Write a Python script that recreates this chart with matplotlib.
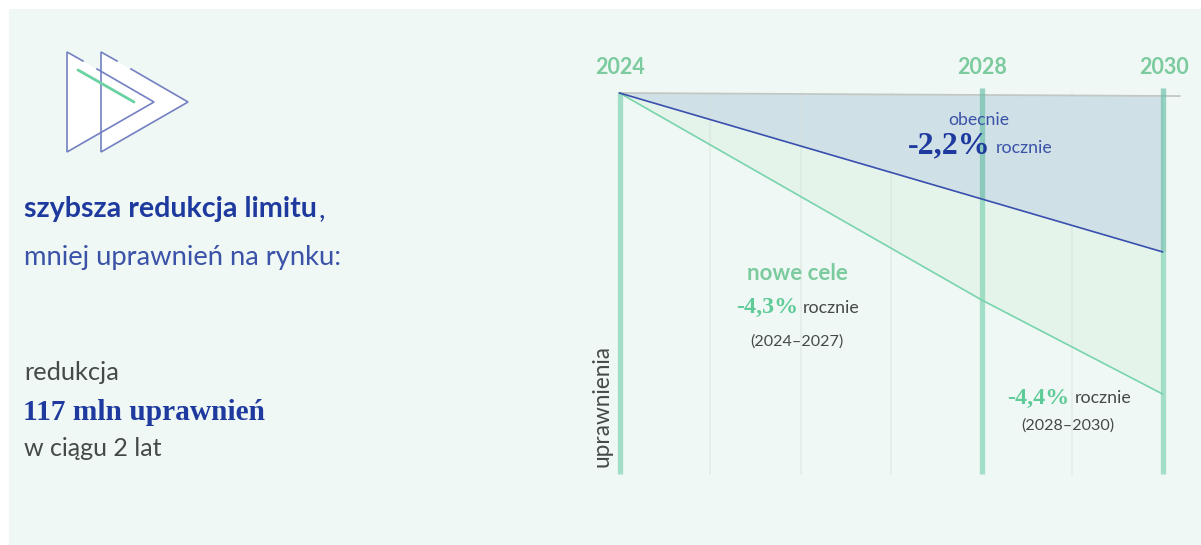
import matplotlib
matplotlib.use("Agg")
from matplotlib import pyplot as plt
from matplotlib.patches import Polygon, Rectangle

W, H = 1201, 545

years = [2024, 2028, 2030]
grid_years = [2025, 2026, 2027, 2029]
year_labels = ["2024", "2028", "2030"]
baseline = [100, 99.5, 99.3]
current_path = [100, 72.2, 58.3]
new_path = [100, 45.7, 21.0]

NAVY = "#1f3a9e"
NAVY_LIGHT = "#3a52a8"
GREEN = "#7ccb9f"
GREEN_STRONG = "#5fcb98"
DARK = "#444a48"
BG = "#eff8f4"
SANS = "Lato"
SERIF = "Liberation Serif"

fig = plt.figure(figsize=(W / 100, H / 100), dpi=100, facecolor="white")

# page layer in pixel coords, for panel, icon and all the text
page = fig.add_axes([0, 0, 1, 1], zorder=0)
page.set_xlim(0, W)
page.set_ylim(H, 0)
page.axis("off")
page.add_patch(Rectangle((9, 9), W - 9, H - 9, facecolor=BG, edgecolor="none"))

# icon
tri_color = "#7380c2"
for dx in [34, 0]:
    page.add_patch(Polygon([(67 + dx, 52), (154 + dx, 102), (67 + dx, 152)], closed=True,
                           facecolor="white", edgecolor="none"))
    page.plot([83 + dx, 67 + dx, 67 + dx, 154 + dx, 97 + dx],
              [61, 52, 152, 102, 69], color=tri_color, lw=1.2, solid_joinstyle="miter")
page.plot([78, 134], [70, 102], color="#6ad2a2", lw=2.0, solid_capstyle="round")

# chart layer, 2024 to 2030 runs from px 619.5 to 1162.5, 100 to 0 from px 93 to 474
x_per_px = 543 / 6
y_per_px = 381 / 100
ax = fig.add_axes([0, 0, 1, 1], zorder=1)
ax.patch.set_alpha(0)
ax.axis("off")
ax.set_xlim(2024 - 619.5 / x_per_px, 2024 + (W - 619.5) / x_per_px)
ax.set_ylim(100 - (H - 93) / y_per_px, 100 + 93 / y_per_px)

ax.fill_between(years, new_path, current_path, color="#e4f4ea", lw=0, zorder=1)
ax.fill_between(years, current_path, baseline, color="#cfe1e6", lw=0, zorder=1)

for y in grid_years:
    ax.plot([y, y], [0, 100], color="#d5dcd9", alpha=0.45, lw=1.1, zorder=2)
ax.plot([2024, 2030.19], [baseline[0], 99.2], color="#c2c8c4", lw=1.3, zorder=2)

for y in years:
    top = 100 if y == 2024 else 101.3
    ax.plot([y, y], [0, top], color="#74cfae", alpha=0.62, lw=3.8,
            solid_capstyle="butt", zorder=3)

# year lines read darker where they cross the navy area
for y, low in zip(years[1:], current_path[1:]):
    ax.plot([y, y], [low, 101.3], color="#1f5a7e", alpha=0.09, lw=3.8,
            solid_capstyle="butt", zorder=3)

ax.plot(years, new_path, color="#78d4ac", lw=1.2, zorder=4)
ax.plot(years, current_path, color="#3a4fae", lw=1.2, zorder=4)


def label(x, y, s, size, color, weight="normal", family=SANS, ha="left", **kw):
    ax.text(x, y, s, transform=page.transData, fontsize=size, color=color, fontweight=weight,
            family=family, ha=ha, va="center", zorder=5, **kw)


for s, x in zip(year_labels, [620, 982, 1164]):
    label(x, 68, s, 15.5, GREEN, weight="bold", ha="center")

label(979, 120, "obecnie", 12.7, NAVY_LIGHT, ha="center")
label(908, 146, "-2,2%", 23, NAVY, weight="bold", family=SERIF)
label(996, 148, "rocznie", 12.8, NAVY_LIGHT)

label(797, 273, "nowe cele", 16, GREEN, weight="bold", ha="center")
label(736, 307, "-4,3%", 17.3, GREEN_STRONG, weight="bold", family=SERIF)
label(803, 308, "rocznie", 12.8, DARK)
label(797, 342, "(2024–2027)", 11.6, DARK, ha="center")

label(1007, 398, "-4,4%", 17.3, GREEN_STRONG, weight="bold", family=SERIF)
label(1075, 398, "rocznie", 12.8, DARK)
label(1068, 426, "(2028–2030)", 11.6, DARK, ha="center")

ax.text(602, 467, "uprawnienia", transform=page.transData, fontsize=16.3, color=DARK, family=SANS,
        rotation=90, ha="center", va="bottom", zorder=5)

label(24, 209, "szybsza redukcja limitu", 20.6, NAVY, weight="bold")
label(319, 209, ",", 20.6, NAVY)
label(24, 258, "mniej uprawnień na rynku:", 19.7, NAVY_LIGHT)
label(24, 373, "redukcja", 18.3, DARK)
label(23, 413, "117 mln uprawnień", 21.2, NAVY, weight="bold", family=SERIF)
label(24, 448, "w ciągu 2 lat", 18, DARK)

fig.savefig("out.png", dpi=100, facecolor="white")
